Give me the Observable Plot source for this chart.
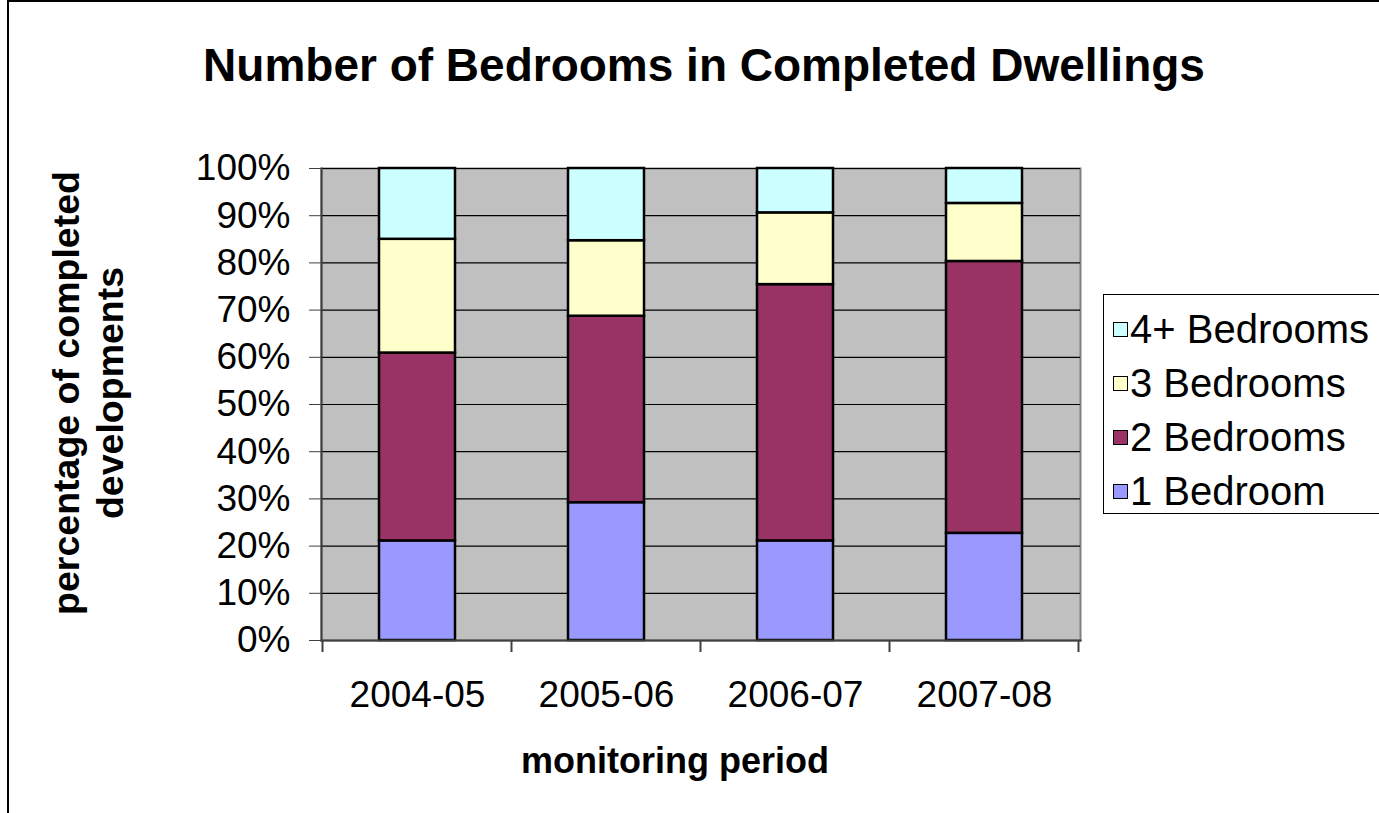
<!DOCTYPE html>
<html>
<head>
<meta charset="utf-8">
<script src="https://cdn.jsdelivr.net/npm/d3@7"></script>
<script src="https://cdn.jsdelivr.net/npm/@observablehq/plot@0.6"></script>
<style>
  html, body { margin: 0; padding: 0; background: #fff; }
  body { font-family: "Liberation Sans", Arial, sans-serif; color: #000; }
  #wrap { position: relative; width: 1379px; height: 813px; overflow: hidden; background: #fff; }
  #frame { position: absolute; left: 7px; top: 0px; width: 1500px; height: 1000px;
           border-left: 2px solid #000; border-top: 2px solid #000; box-sizing: border-box; }
  #chart { position: absolute; left: 0; top: 0; }
  .txt { position: absolute; white-space: nowrap; line-height: normal; }
  #title { left: 0; width: 1408px; top: 38px; text-align: center; font-weight: bold; font-size: 46px; }
  #xtitle { left: 0; width: 1350px; top: 740px; text-align: center; font-weight: bold; font-size: 36px; }
  #ytitle { left: -212px; top: 349px; width: 600px; height: 88px; text-align: center; font-weight: bold;
            font-size: 37.5px; line-height: 44px; transform: rotate(-90deg); white-space: normal; }
  #legend { position: absolute; left: 1103px; top: 294px; width: 320px; height: 220px;
            border: 1px solid #000; box-sizing: border-box; background: #fff; padding-top: 7px; }
  .row { height: 54px; display: flex; align-items: center; font-size: 40px; white-space: nowrap; }
  .sw { width: 13px; height: 13px; border: 1.5px solid #000; margin-left: 9px; margin-right: 2px; flex: none; }
</style>
</head>
<body>
<div id="wrap">
  <div id="frame"></div>
  <div id="chart"></div>
  <div id="title" class="txt">Number of Bedrooms in Completed Dwellings</div>
  <div id="xtitle" class="txt">monitoring period</div>
  <div id="ytitle" class="txt">percentage of completed<br>developments</div>
  <div id="legend"></div>
</div>
<script>
// ---- data ----
const periods = ["2004-05", "2005-06", "2006-07", "2007-08"];
const types = ["1 Bedroom", "2 Bedrooms", "3 Bedrooms", "4+ Bedrooms"];
const oneBedroom = [21.1, 29.2, 21.1, 22.7];
const twoBedrooms = [39.8, 39.5, 54.3, 57.6];
const threeBedrooms = [24.1, 16.0, 15.2, 12.3];
const fourPlusBedrooms = [15.0, 15.3, 9.4, 7.4];
const yTicks = [0, 10, 20, 30, 40, 50, 60, 70, 80, 90, 100];
const colors = ["#9999FF", "#993366", "#FFFFCC", "#CCFFFF"];

const series = [oneBedroom, twoBedrooms, threeBedrooms, fourPlusBedrooms];
const rows = [];
periods.forEach((p, i) => {
  types.forEach((t, j) => rows.push({period: p, type: t, value: series[j][i]}));
});

// ticks at category boundaries (Excel-style), derived from the band scale
function boundaryTicks(index, scales, values, dimensions) {
  const x = scales.x;
  const xs = periods.map(p => x(p));
  const step = xs[1] - xs[0];
  let bw = typeof x.bandwidth === "function" ? x.bandwidth() : x.bandwidth;
  if (bw == null && scales.scales && scales.scales.x) bw = scales.scales.x.bandwidth;
  if (bw == null) bw = step * 0.4;
  const gap = step - bw;
  const bounds = xs.map(v => v - gap / 2).concat([xs[xs.length - 1] + bw + gap / 2]);
  const y0 = dimensions.height - dimensions.marginBottom;
  const g = d3.create("svg:g");
  g.selectAll("line").data(bounds).join("line")
    .attr("x1", d => d).attr("x2", d => d)
    .attr("y1", y0).attr("y2", y0 + 12)
    .attr("stroke", "#404040").attr("stroke-width", 2);
  return g.node();
}

const chart = Plot.plot({
  width: 1379,
  height: 813,
  marginLeft: 321,
  marginRight: 299,
  marginTop: 168,
  marginBottom: 173,
  style: {fontFamily: "'Liberation Sans', Arial, sans-serif", fontSize: "37px", color: "#000", background: "transparent", overflow: "visible"},
  x: {type: "band", domain: periods, paddingInner: 0.6, paddingOuter: 0.3, label: null},
  y: {domain: [0, 100], label: null},
  color: {domain: types, range: colors},
  marks: [
    Plot.frame({fill: "#C0C0C0", stroke: "#808080", strokeWidth: 2}),
    Plot.gridY(yTicks, {stroke: "#000", strokeOpacity: 1, strokeWidth: 1.2}),
    Plot.barY(rows, {x: "period", y: "value", fill: "type", stroke: "#000", strokeWidth: 2.5, order: types}),
    Plot.frame({anchor: "left", stroke: "#404040", strokeWidth: 2}),
    Plot.frame({anchor: "bottom", stroke: "#404040", strokeWidth: 2}),
    Plot.axisY(yTicks, {tickSize: 12, tickPadding: 19, tickFormat: d => d + "%", stroke: "#404040", fontSize: 37, label: null}),
    Plot.axisX({tickSize: 0, tickPadding: 40, fontSize: 37, label: null}),
    boundaryTicks
  ]
});
document.getElementById("chart").appendChild(chart);

// legend (top to bottom: 4+ ... 1)
const legend = document.getElementById("legend");
types.map((t, i) => ({t, c: colors[i]})).reverse().forEach(({t, c}) => {
  const row = document.createElement("div");
  row.className = "row";
  const sw = document.createElement("span");
  sw.className = "sw";
  sw.style.background = c;
  const lab = document.createElement("span");
  lab.textContent = t;
  row.appendChild(sw);
  row.appendChild(lab);
  legend.appendChild(row);
});
</script>
</body>
</html>
